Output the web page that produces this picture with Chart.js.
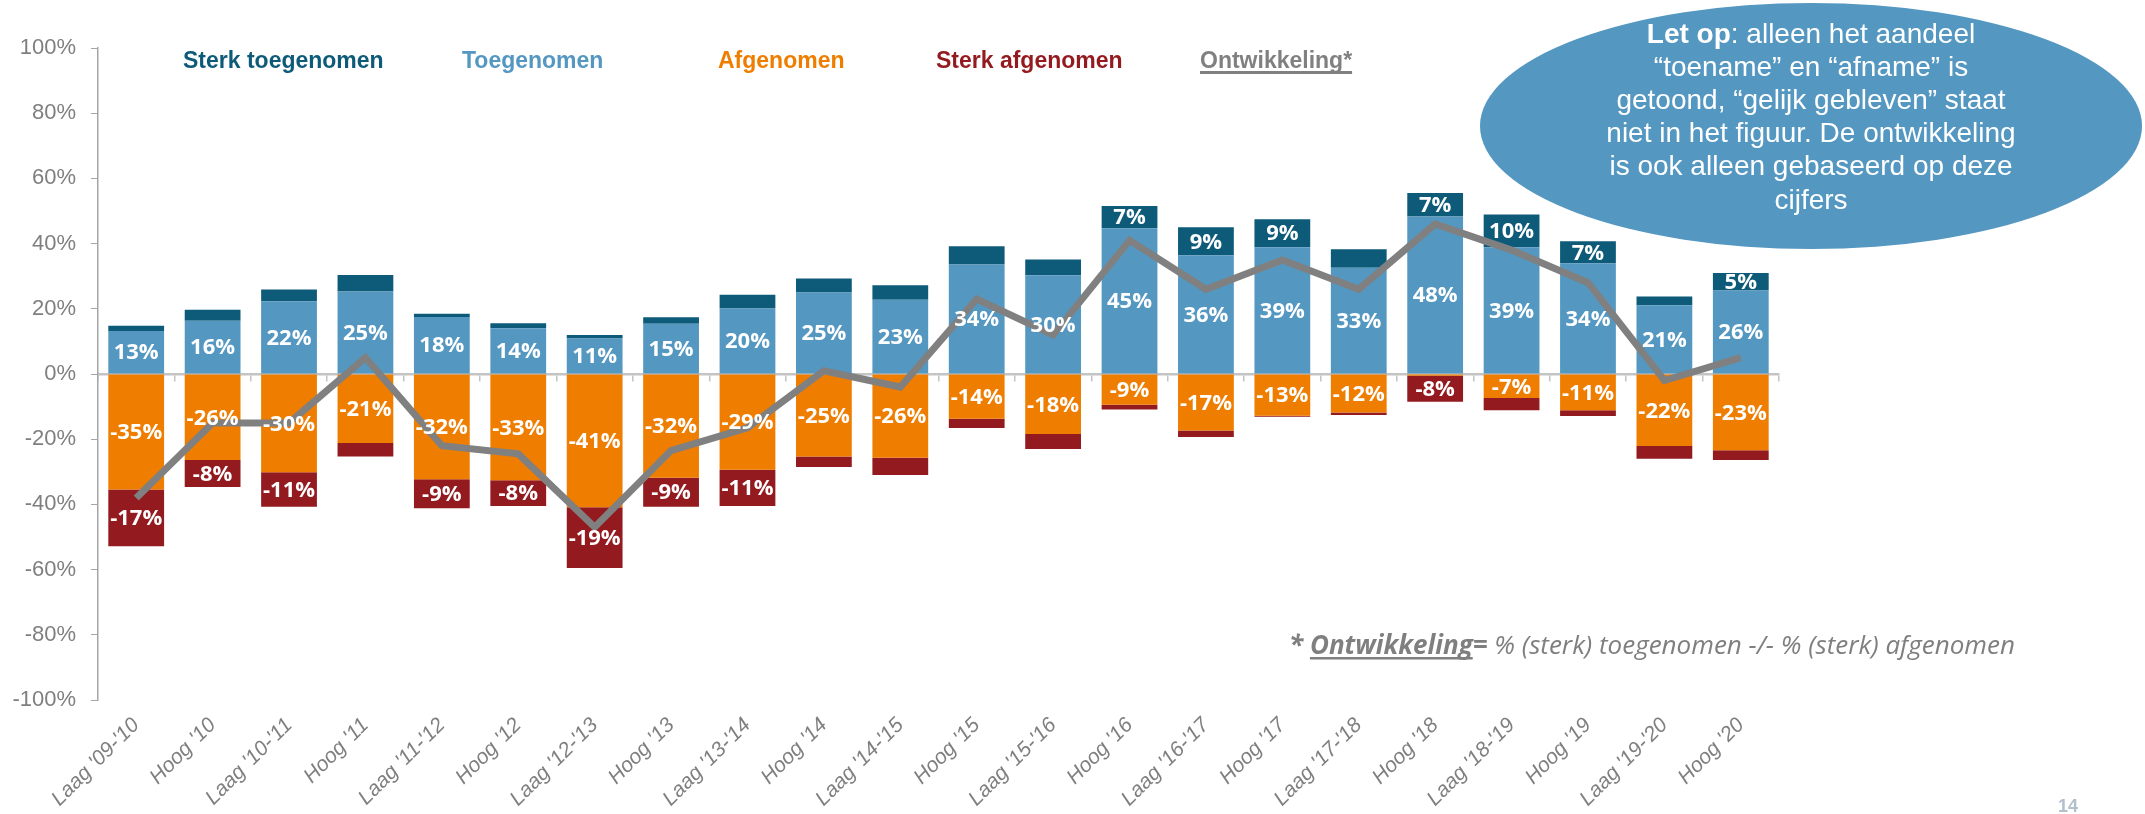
<!DOCTYPE html>
<html>
<head>
<meta charset="utf-8">
<script src="https://cdn.jsdelivr.net/npm/chart.js@4.4.0/dist/chart.umd.min.js"></script>
<style>
html,body{margin:0;padding:0;background:#ffffff;}
#wrap{width:2145px;height:814px;position:relative;overflow:hidden;}
</style>
</head>
<body>
<div id="wrap"><canvas id="c" width="2145" height="814"></canvas></div>
<script>
// ---- data ----
const categories = ["Laag '09-'10","Hoog '10","Laag '10-'11","Hoog '11","Laag '11-'12","Hoog '12","Laag '12-'13","Hoog '13","Laag '13-'14","Hoog '14","Laag '14-'15","Hoog '15","Laag '15-'16","Hoog '16","Laag '16-'17","Hoog '17","Laag '17-'18","Hoog '18","Laag '18-'19","Hoog '19","Laag '19-'20","Hoog '20"];
const toegenomen      = [13.2,16.3,22.3,25.3,17.5,14.0,10.9,15.4,20.1,25.0,22.8,33.6,30.3,44.7,36.4,38.9,32.6,48.3,38.9,34.0,21.1,25.6];
const sterkToegenomen = [1.6,3.4,3.6,5.1,1.0,1.6,1.1,2.0,4.2,4.3,4.4,5.6,4.8,6.8,8.6,8.6,5.7,7.2,10.0,6.7,2.7,5.4];
const afgenomen       = [-35.4,-26.4,-30.1,-21.2,-32.3,-32.6,-40.9,-31.8,-29.4,-25.3,-25.7,-13.7,-18.4,-9.4,-17.3,-12.8,-11.8,-0.5,-7.4,-11.1,-22.1,-23.4];
const sterkAfgenomen  = [-17.4,-8.3,-10.6,-4.1,-8.9,-7.9,-18.6,-8.9,-11.1,-3.2,-5.3,-2.9,-4.6,-1.5,-2.0,-0.3,-0.8,-8.0,-3.7,-1.8,-3.9,-3.0];
const ontwikkeling    = [-38,-15,-15,5,-22,-24.5,-47,-23.5,-16.5,1,-4,23,12,41,26,35,26,46,38,28,-2,5];
// which segment labels are printed in the reference (1 = shown)
const showToegenomen      = [1,1,1,1,1,1,1,1,1,1,1,1,1,1,1,1,1,1,1,1,1,1];
const showSterkToegenomen = [0,0,0,0,0,0,0,0,0,0,0,0,0,1,1,1,0,1,1,1,0,1];
const showAfgenomen       = [1,1,1,1,1,1,1,1,1,1,1,1,1,1,1,1,1,0,1,1,1,1];
const showSterkAfgenomen  = [1,1,1,0,1,1,1,1,1,0,0,0,0,0,0,0,0,1,0,0,0,0];
const yMin = -100, yMax = 100, yStep = 20;

const seriesNames = ['Sterk toegenomen','Toegenomen','Afgenomen','Sterk afgenomen','Ontwikkeling*'];
const COL = {sterkToe:'#0e5b79', toe:'#5497c1', af:'#ef7d00', sterkAf:'#931a1e', line:'#808080', axis:'#a6a6a6', zero:'#c4c4c4', text:'#7f7f7f'};

const segLabels = {
  id:'segLabels',
  afterDatasetsDraw(chart){
    const ctx = chart.ctx;
    ctx.save();
    ctx.font = 'bold 22px "Open Sans"';
    ctx.fillStyle = '#ffffff';
    ctx.textAlign = 'center';
    ctx.textBaseline = 'middle';
    chart.data.datasets.forEach((ds, di) => {
      if (!ds.showMask) return;
      const meta = chart.getDatasetMeta(di);
      meta.data.forEach((el, i) => {
        if (!ds.showMask[i]) return;
        const p = el.getProps(['x','y','base'], true);
        ctx.fillText(Math.round(ds.data[i]) + '%', p.x, (p.y + p.base) / 2 + 1);
      });
    });
    ctx.restore();
  }
};

function drawRuns(ctx, runs, x, y, align){
  let total = 0;
  runs.forEach(r => { ctx.font = r.font; r.w = ctx.measureText(r.text).width; total += r.w; });
  let cx = align === 'center' ? x - total/2 : x;
  runs.forEach(r => {
    ctx.font = r.font; ctx.fillStyle = r.color;
    ctx.fillText(r.text, cx, y);
    if (r.underline) ctx.fillRect(cx, y + r.underline[0], r.w, r.underline[1]);
    cx += r.w;
  });
}

const overlay = {
  id:'overlay',
  afterDraw(chart){
    const ctx = chart.ctx;
    ctx.save();
    ctx.textBaseline = 'alphabetic';
    ctx.textAlign = 'left';
    // legend (text only)
    const lf = 'bold 23px "Liberation Sans"';
    const legendItems = [
      {text:seriesNames[0], color:COL.sterkToe, x:183},
      {text:seriesNames[1], color:COL.toe, x:462},
      {text:seriesNames[2], color:COL.af, x:718},
      {text:seriesNames[3], color:COL.sterkAf, x:936},
      {text:seriesNames[4], color:COL.line, x:1200, underline:[3,3]}
    ];
    legendItems.forEach(it => drawRuns(ctx, [{text:it.text, font:lf, color:it.color, underline:it.underline}], it.x, 68, 'left'));

    // note ellipse
    ctx.beginPath();
    ctx.ellipse(1811, 126, 331, 123, 0, 0, Math.PI*2);
    ctx.fillStyle = '#5497c1';
    ctx.fill();
    const nf = '28px "Liberation Sans"', nb = 'bold 28px "Liberation Sans"';
    const noteLines = [
      [{text:'Let op', font:nb, color:'#fff'},{text:': alleen het aandeel', font:nf, color:'#fff'}],
      [{text:'\u201Ctoename\u201D en \u201Cafname\u201D is', font:nf, color:'#fff'}],
      [{text:'getoond, \u201Cgelijk gebleven\u201D staat', font:nf, color:'#fff'}],
      [{text:'niet in het figuur. De ontwikkeling', font:nf, color:'#fff'}],
      [{text:'is ook alleen gebaseerd op deze', font:nf, color:'#fff'}],
      [{text:'cijfers', font:nf, color:'#fff'}]
    ];
    noteLines.forEach((runs, i) => drawRuns(ctx, runs, 1811, 43 + i*33.1, 'center'));

    // footnote
    const fb = 'italic bold 26px "Open Sans"', fi = 'italic 26px "Open Sans"';
    drawRuns(ctx, [
      {text:'* ', font:fb, color:COL.text},
      {text:'Ontwikkeling', font:fb, color:COL.text, underline:[3,2.5]},
      {text:'=', font:fb, color:COL.text},
      {text:' % (sterk) toegenomen -/- % (sterk) afgenomen', font:fi, color:COL.text}
    ], 1289, 654, 'left');

    // page number
    ctx.font = 'bold 18px "Liberation Sans"';
    ctx.fillStyle = '#b3bfcd';
    ctx.textAlign = 'center';
    ctx.fillText('14', 2068, 812);
    ctx.restore();
  }
};

new Chart(document.getElementById('c'), {
  type:'bar',
  data:{
    labels:categories,
    datasets:[
      {label:seriesNames[1], data:toegenomen, backgroundColor:COL.toe, stack:'s', order:1, showMask:showToegenomen},
      {label:seriesNames[0], data:sterkToegenomen, backgroundColor:COL.sterkToe, stack:'s', order:1, showMask:showSterkToegenomen},
      {label:seriesNames[2], data:afgenomen, backgroundColor:COL.af, stack:'s', order:1, showMask:showAfgenomen},
      {label:seriesNames[3], data:sterkAfgenomen, backgroundColor:COL.sterkAf, stack:'s', order:1, showMask:showSterkAfgenomen},
      {type:'line', label:seriesNames[4], data:ontwikkeling, borderColor:COL.line, backgroundColor:COL.line, borderWidth:7, pointRadius:0, tension:0, fill:false, order:0, stack:'line'}
    ]
  },
  options:{
    responsive:false,
    animation:false,
    layout:{padding:{left:0, right:366, top:48, bottom:0}},
    plugins:{legend:{display:false}, tooltip:{enabled:false}},
    datasets:{bar:{categoryPercentage:1, barPercentage:0.73}},
    scales:{
      x:{type:'category', position:{y:0}, offset:true, stacked:true,
         grid:{offset:true, drawOnChartArea:false, drawTicks:true, tickLength:6, color:COL.zero, lineWidth:1.5},
         border:{display:true, color:COL.zero, width:2.5},
         ticks:{display:false}},
      xl:{type:'category', position:'bottom', offset:true,
          grid:{display:false, drawTicks:false}, border:{display:false},
          ticks:{autoSkip:false, maxRotation:45, minRotation:45, color:COL.text, padding:13,
                 font:{family:'Liberation Sans', size:21, style:'italic'}},
          afterFit(s){ s.height = 114; }},
      y:{stacked:true, min:yMin, max:yMax,
         ticks:{stepSize:yStep, callback:v => v + '%', color:COL.text, padding:15,
                font:{family:'Liberation Sans', size:22}},
         grid:{drawOnChartArea:false, drawTicks:true, tickLength:7, color:COL.axis},
         border:{display:true, color:COL.axis, width:1.5},
         afterFit(s){ s.width = 98; }}
    }
  },
  plugins:[segLabels, overlay]
});
</script>
</body>
</html>
